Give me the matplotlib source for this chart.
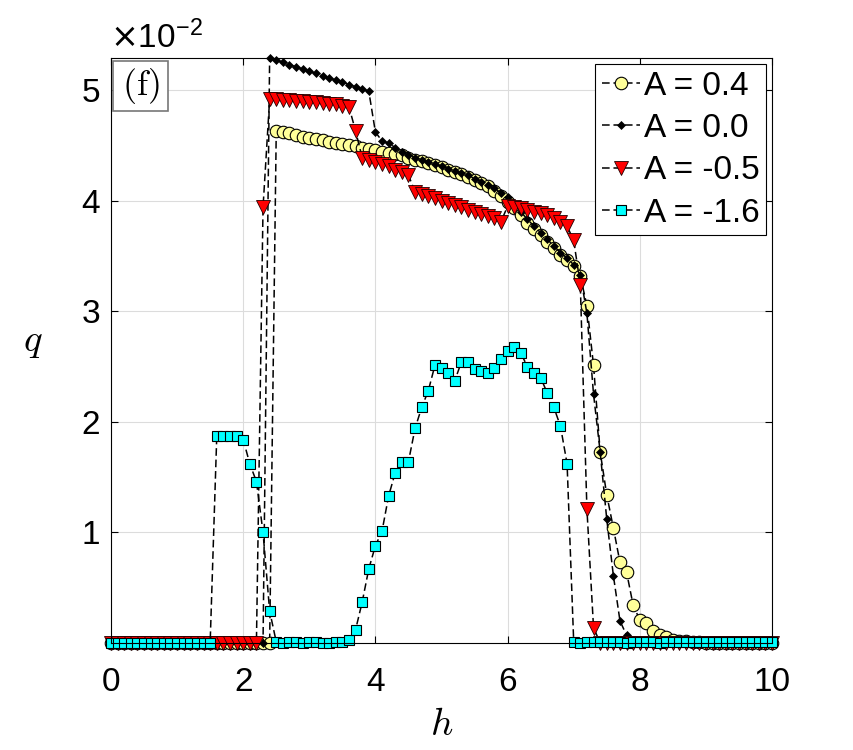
import numpy as np
import matplotlib
matplotlib.use("Agg")
import matplotlib.pyplot as plt
from matplotlib.patches import Rectangle

plt.rcParams['font.family'] = ['Liberation Sans', 'DejaVu Sans']

# field h, 0 to 10 in steps of 0.1
h = np.linspace(0, 10, 101)

# q (x 1e-2) for each A, one row = 10 points of h
q_a04 = [
    0, 0, 0, 0, 0, 0, 0, 0, 0, 0,
    0, 0, 0, 0, 0, 0, 0, 0, 0, 0,
    0, 0, 0, 0, 0, 4.63, 4.62, 4.61, 4.59, 4.58,
    4.57, 4.56, 4.55, 4.53, 4.52, 4.51, 4.50, 4.49, 4.48, 4.47,
    4.46, 4.44, 4.43, 4.42, 4.41, 4.39, 4.37, 4.36, 4.34, 4.32,
    4.30, 4.28, 4.26, 4.24, 4.21, 4.19, 4.16, 4.13, 4.09, 4.04,
    3.99, 3.93, 3.87, 3.80, 3.74, 3.69, 3.63, 3.57, 3.51, 3.46,
    3.41, 3.32, 3.05, 2.51, 1.73, 1.34, 1.04, 0.73, 0.64, 0.34,
    0.21, 0.18, 0.11, 0.07, 0.05, 0.03, 0.02, 0.02, 0.01, 0.01,
    0, 0, 0, 0, 0, 0, 0, 0, 0, 0,
    0]

q_a00 = [
    0, 0, 0, 0, 0, 0, 0, 0, 0, 0,
    0, 0, 0, 0, 0, 0, 0, 0, 0, 0,
    0, 0, 0, 0, 5.29, 5.27, 5.25, 5.23, 5.21, 5.19,
    5.17, 5.15, 5.13, 5.11, 5.09, 5.07, 5.05, 5.03, 5.01, 4.99,
    4.62, 4.54, 4.52, 4.48, 4.44, 4.41, 4.39, 4.37, 4.35, 4.33,
    4.31, 4.29, 4.27, 4.25, 4.23, 4.20, 4.17, 4.14, 4.11, 4.07,
    4.03, 3.96, 3.90, 3.83, 3.77, 3.71, 3.65, 3.59, 3.53, 3.48,
    3.42, 3.33, 2.98, 2.25, 1.73, 1.12, 0.61, 0.20, 0.07, 0.02,
    0, 0, 0, 0, 0, 0, 0, 0, 0, 0,
    0, 0, 0, 0, 0, 0, 0, 0, 0, 0,
    0]

q_am05 = [
    0, 0, 0, 0, 0, 0, 0, 0, 0, 0,
    0, 0, 0, 0, 0, 0, 0, 0, 0, 0,
    0, 0, 0, 3.94, 4.92, 4.92, 4.91, 4.91, 4.90, 4.90,
    4.89, 4.89, 4.88, 4.87, 4.87, 4.86, 4.85, 4.63, 4.39, 4.37,
    4.35, 4.33, 4.31, 4.28, 4.26, 4.23, 4.08, 4.06, 4.04, 4.02,
    4.00, 3.98, 3.96, 3.94, 3.92, 3.90, 3.88, 3.86, 3.84, 3.81,
    3.95, 3.94, 3.93, 3.92, 3.90, 3.89, 3.87, 3.84, 3.81, 3.77,
    3.64, 3.24, 1.21, 0.14, 0, 0, 0, 0, 0, 0,
    0, 0, 0, 0, 0, 0, 0, 0, 0, 0,
    0, 0, 0, 0, 0, 0, 0, 0, 0, 0,
    0]

q_am16 = [
    0, 0, 0, 0, 0, 0, 0, 0, 0, 0,
    0, 0, 0, 0, 0, 0, 1.87, 1.87, 1.87, 1.87,
    1.84, 1.62, 1.46, 1.00, 0.29, 0.01, 0.00, 0.01, 0.01, 0.00,
    0.01, 0.01, 0.00, 0.00, 0.01, 0.01, 0.03, 0.12, 0.37, 0.67,
    0.88, 1.01, 1.33, 1.54, 1.64, 1.64, 1.94, 2.13, 2.28, 2.51,
    2.49, 2.44, 2.37, 2.54, 2.54, 2.48, 2.46, 2.44, 2.49, 2.57,
    2.64, 2.68, 2.62, 2.50, 2.44, 2.40, 2.26, 2.13, 1.96, 1.62,
    0.01, 0.00, 0.01, 0.01, 0.01, 0.01, 0.01, 0.01, 0.00, 0.01,
    0.01, 0.01, 0.01, 0.00, 0.01, 0.01, 0.01, 0.01, 0.01, 0.01,
    0.01, 0.01, 0.01, 0.01, 0.01, 0.01, 0.01, 0.01, 0.01, 0.01,
    0.01]

labels = ['A = 0.4', 'A = 0.0', 'A = -0.5', 'A = -1.6']

fig = plt.figure(figsize=(8.54, 7.5), dpi=100)
ax = fig.add_axes([111 / 854, 1 - 643 / 750, 661 / 854, 585 / 750])

line_kw = dict(color='k', ls='--', lw=1.1, dashes=(5, 2.5), clip_on=False)
ax.plot(h, q_a04, marker='o', ms=9, mfc='#ffff99', mec='k', mew=0.8,
        label=labels[0], **line_kw)
ax.plot(h, q_a00, marker='D', ms=4.5, mfc='k', mec='k', mew=0.5,
        label=labels[1], **line_kw)
ax.plot(h, q_am05, marker='v', ms=10.5, mfc='red', mec='#200000', mew=0.6,
        label=labels[2], **line_kw)
ax.plot(h, q_am16, marker='s', ms=7, mfc='cyan', mec='k', mew=0.8,
        label=labels[3], **line_kw)

ax.set_xlim(0, 10)
ax.set_ylim(0, 5.29)
ax.set_xticks([0, 2, 4, 6, 8, 10])
ax.set_yticks([1, 2, 3, 4, 5])
ax.grid(True, color='#dcdcdc', lw=0.8)
ax.set_axisbelow(True)
ax.tick_params(direction='in', length=5, width=0.8, top=True, right=True,
               labelsize=24)
ax.tick_params(axis='x', pad=17)
ax.tick_params(axis='y', pad=8)
for s in ax.spines.values():
    s.set_linewidth(0.8)

ax.set_xlabel(r'$h$', fontsize=28, math_fontfamily='cm')
ax.xaxis.set_label_coords(0.5, -0.109)
ax.set_ylabel(r'$q$', fontsize=28, math_fontfamily='cm', rotation=0,
              ha='center', va='center')
ax.yaxis.set_label_coords(-0.118, 0.515)

ax.text(-0.002, 1.017, r'$\times\mathdefault{10^{-2}}$', transform=ax.transAxes,
        fontsize=24, ha='left', va='baseline')

# panel tag
ax.add_patch(Rectangle((0.003, 0.909), 0.083, 0.086, transform=ax.transAxes,
                       fc='white', ec='#777777', lw=1.2, zorder=5))
ax.text(0.0445, 0.952, r'$\mathrm{(f)}$', transform=ax.transAxes,
        fontsize=26, math_fontfamily='cm', ha='center', va='center', zorder=6)

leg = ax.legend(loc='upper right', bbox_to_anchor=(0.991, 0.99),
                borderaxespad=0, fontsize=24, handlelength=1.15,
                handletextpad=0.1, labelspacing=0.34, borderpad=0.2,
                fancybox=False, framealpha=1, edgecolor='k')
leg.get_frame().set_linewidth(0.8)

fig.savefig('out.png', dpi=100)
